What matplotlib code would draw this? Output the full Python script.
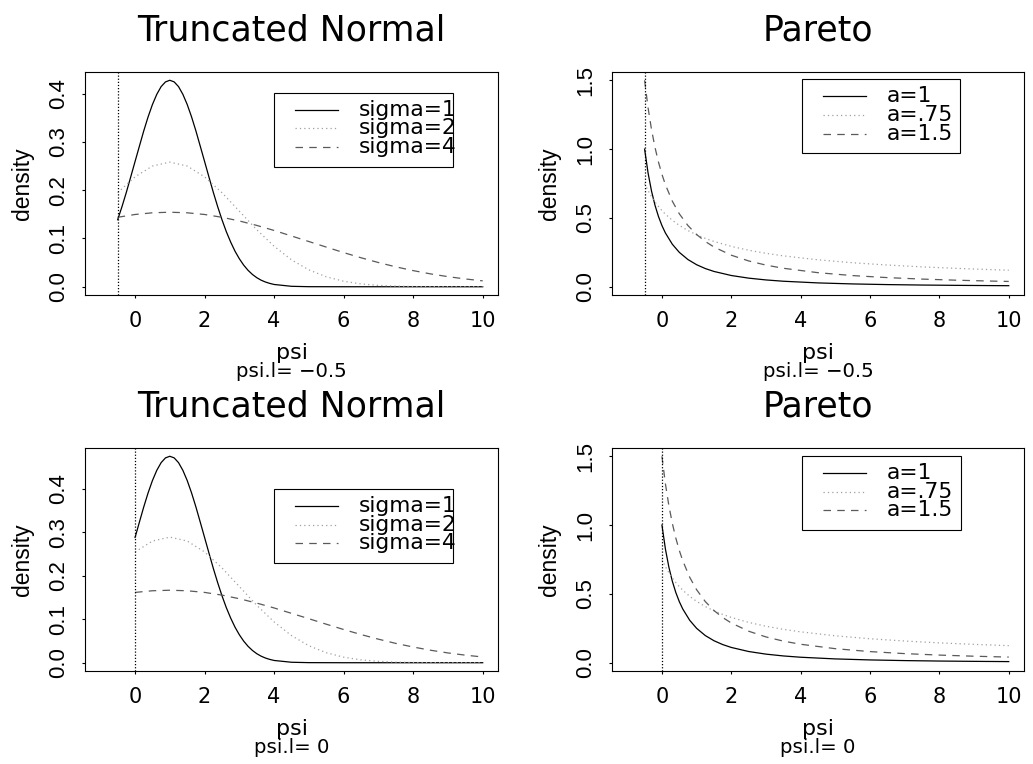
import matplotlib
matplotlib.use('Agg')
import matplotlib.pyplot as plt

plt.rcParams['font.family'] = ['DejaVu Sans']
ROT_FONT = ['Liberation Sans', 'DejaVu Sans']   # narrower face for the rotated texts

# ---- truncated normal, psi.l = -0.5 ----
tn_top_x1 = [-0.5, -0.375, -0.25, -0.125, 0, 0.125, 0.25, 0.375, 0.5, 0.625, 0.75, 0.875,
             1, 1.125, 1.25, 1.375, 1.5, 1.625, 1.75, 1.875, 2, 2.125, 2.25, 2.375, 2.5,
             2.625, 2.75, 2.875, 3, 3.125, 3.25, 3.375, 3.5, 3.625, 3.75, 3.875, 4,
             4.5, 5, 6, 7, 8, 9, 10]
tn_top_s1 = [0.1388, 0.1661, 0.1957, 0.2273, 0.2593, 0.2911, 0.3227, 0.3517, 0.3773, 0.3984,
             0.4144, 0.4241, 0.4275, 0.4241, 0.4144, 0.3984, 0.3773, 0.3517, 0.3227, 0.2911,
             0.2593, 0.2273, 0.1957, 0.1661, 0.1388, 0.1140, 0.0925, 0.0736, 0.0579, 0.0447,
             0.0340, 0.0255, 0.0188, 0.0136, 0.0098, 0.0069, 0.0047,
             0.0009, 0.0001, 0, 0, 0, 0, 0]
tn_top_x2 = [-0.5, 0, 0.5, 1, 1.5, 2, 2.5, 3, 3.5, 4, 4.5, 5, 5.5, 6, 6.5, 7, 7.5, 8, 9, 10]
tn_top_s2 = [0.1947, 0.2276, 0.2499, 0.2580, 0.2499, 0.2276, 0.1947, 0.1565, 0.1181, 0.0838,
             0.0557, 0.0349, 0.0206, 0.0114, 0.0058, 0.0028, 0.0013, 0.0005, 0.0001, 0]
tn_top_x4 = [-0.5, 0, 0.5, 1, 1.5, 2, 2.5, 3, 3.5, 4, 4.5, 5, 5.5, 6, 6.5, 7, 7.5, 8,
             8.5, 9, 9.5, 10]
tn_top_s4 = [0.1438, 0.1496, 0.1531, 0.1543, 0.1531, 0.1496, 0.1438, 0.1362, 0.1270, 0.1165,
             0.1051, 0.0936, 0.0821, 0.0707, 0.0600, 0.0501, 0.0412, 0.0334, 0.0266, 0.0209,
             0.0161, 0.0122]

# ---- truncated normal, psi.l = 0 ----
tn_bot_x1 = [0, 0.125, 0.25, 0.375, 0.5, 0.625, 0.75, 0.875, 1, 1.125, 1.25, 1.375, 1.5,
             1.625, 1.75, 1.875, 2, 2.125, 2.25, 2.375, 2.5, 2.625, 2.75, 2.875, 3, 3.125,
             3.25, 3.375, 3.5, 3.625, 3.75, 3.875, 4, 4.5, 5, 6, 7, 8, 9, 10]
tn_bot_s1 = [0.2876, 0.3230, 0.3579, 0.3901, 0.4185, 0.4419, 0.4596, 0.4705, 0.4742, 0.4705,
             0.4596, 0.4419, 0.4185, 0.3901, 0.3579, 0.3230, 0.2876, 0.2521, 0.2170, 0.1842,
             0.1539, 0.1265, 0.1026, 0.0817, 0.0642, 0.0496, 0.0377, 0.0283, 0.0208, 0.0151,
             0.0108, 0.0076, 0.0052, 0.0011, 0.0002, 0, 0, 0, 0, 0]
tn_bot_x2 = [0, 0.5, 1, 1.5, 2, 2.5, 3, 3.5, 4, 4.5, 5, 5.5, 6, 6.5, 7, 7.5, 8, 9, 10]
tn_bot_s2 = [0.2545, 0.2795, 0.2885, 0.2795, 0.2545, 0.2178, 0.1750, 0.1320, 0.0937, 0.0623,
             0.0390, 0.0230, 0.0127, 0.0065, 0.0032, 0.0014, 0.0006, 0.0001, 0]
tn_bot_x4 = [0, 0.5, 1, 1.5, 2, 2.5, 3, 3.5, 4, 4.5, 5, 5.5, 6, 6.5, 7, 7.5, 8, 8.5, 9, 9.5, 10]
tn_bot_s4 = [0.1615, 0.1653, 0.1665, 0.1653, 0.1615, 0.1553, 0.1470, 0.1370, 0.1258, 0.1134,
             0.1011, 0.0885, 0.0763, 0.0647, 0.0541, 0.0444, 0.0361, 0.0287, 0.0225, 0.0174,
             0.0132]

# ---- pareto, psi.l = -0.5 ----
par_top_x = [-0.5, -0.4, -0.3, -0.2, -0.1, 0, 0.1, 0.3, 0.5, 0.75, 1, 1.25, 1.5, 2, 2.5, 3,
             3.5, 4.5, 5.5, 6.5, 7.5, 8.5, 9.5, 10]
par_top_a1 = [1, 0.8264, 0.6944, 0.5917, 0.5102, 0.4444, 0.3906, 0.3086, 0.25, 0.1975, 0.16,
              0.1322, 0.1111, 0.0816, 0.0625, 0.0494, 0.04, 0.0278, 0.0204, 0.0156, 0.0123,
              0.01, 0.0083, 0.0076]
par_top_a075 = [0.75, 0.6983, 0.6542, 0.6161, 0.5828, 0.5533, 0.5272, 0.4826, 0.4460, 0.4082,
                0.3773, 0.3512, 0.3290, 0.2931, 0.2652, 0.2428, 0.2243, 0.1957, 0.1743, 0.1577,
                0.1443, 0.1334, 0.1242, 0.1201]
par_top_a15 = [1.5, 1.3001, 1.1411, 1.0120, 0.9055, 0.8165, 0.7412, 0.6211, 0.5303, 0.4444,
               0.3795, 0.3289, 0.2887, 0.2291, 0.1875, 0.1571, 0.1342, 0.1021, 0.0810, 0.0663,
               0.0556, 0.0474, 0.0411, 0.0385]

# ---- pareto, psi.l = 0 ----
par_bot_x = [0, 0.1, 0.2, 0.3, 0.4, 0.5, 0.6, 0.8, 1, 1.25, 1.5, 1.75, 2, 2.5, 3, 3.5, 4,
             5, 6, 7, 8, 9, 10]
par_bot_a1 = [1, 0.8264, 0.6944, 0.5917, 0.5102, 0.4444, 0.3906, 0.3086, 0.25, 0.1975, 0.16,
              0.1322, 0.1111, 0.0816, 0.0625, 0.0494, 0.04, 0.0278, 0.0204, 0.0156, 0.0123,
              0.01, 0.0083]
par_bot_a075 = [0.75, 0.6983, 0.6542, 0.6161, 0.5828, 0.5533, 0.5272, 0.4826, 0.4460, 0.4082,
                0.3773, 0.3512, 0.3290, 0.2931, 0.2652, 0.2428, 0.2243, 0.1957, 0.1743, 0.1577,
                0.1443, 0.1334, 0.1242]
par_bot_a15 = [1.5, 1.3001, 1.1411, 1.0120, 0.9055, 0.8165, 0.7412, 0.6211, 0.5303, 0.4444,
               0.3795, 0.3289, 0.2887, 0.2291, 0.1875, 0.1571, 0.1342, 0.1021, 0.0810, 0.0663,
               0.0556, 0.0474, 0.0411]

tn_labels = ['sigma=1', 'sigma=2', 'sigma=4']
par_labels = ['a=1', 'a=.75', 'a=1.5']
x_ticks = [0, 2, 4, 6, 8, 10]
tn_yticks = [0.0, 0.1, 0.2, 0.3, 0.4]
par_yticks = [0.0, 0.5, 1.0, 1.5]

W, H = 1033, 764
fig = plt.figure(figsize=(W / 100, H / 100), dpi=100)

# line styles: solid black, light grey dots, darker grey dashes
STYLES = [dict(color='black', lw=0.9, ls='-'),
          dict(color='#a0a0a0', lw=0.9, ls=(0, (1, 2.5))),
          dict(color='#5a5a5a', lw=0.9, ls=(0, (6, 5)))]


def draw_key(ax, box, left, top, width, labels):
    # R style legend box, given in figure pixels
    bl, bt, bw, bh = box

    def fx(px):
        return (px - bl) / bw

    def fy(py):
        return 1 - (py - bt) / bh

    rect = plt.Rectangle((fx(left), fy(top + 74)), width / bw, 74 / bh,
                         transform=ax.transAxes, fill=False, lw=0.8,
                         edgecolor='black', zorder=5)
    ax.add_patch(rect)
    for i, (lab, st) in enumerate(zip(labels, STYLES)):
        yy = fy(top + 17 + 18.7 * i)
        ax.plot([fx(left + 21), fx(left + 64)], [yy, yy], transform=ax.transAxes,
                clip_on=False, **st)
        ax.text(fx(left + 85), yy, lab, transform=ax.transAxes, fontsize=15.7,
                va='center', ha='left')


panels = [
    dict(box=(85, 72, 413, 223), title='Truncated Normal', psil=-0.5, sub='psi.l= \u22120.5',
         series=[(tn_top_x1, tn_top_s1), (tn_top_x2, tn_top_s2), (tn_top_x4, tn_top_s4)],
         ylim=(-0.0171, 0.4446), yticks=tn_yticks, labels=tn_labels,
         key=(274, 92.7, 179)),
    dict(box=(612, 72, 412, 223), title='Pareto', psil=-0.5, sub='psi.l= \u22120.5',
         series=[(par_top_x, par_top_a1), (par_top_x, par_top_a075), (par_top_x, par_top_a15)],
         ylim=(-0.06, 1.56), yticks=par_yticks, labels=par_labels,
         key=(801.7, 79.3, 158.5)),
    dict(box=(85, 448, 413, 223), title='Truncated Normal', psil=0, sub='psi.l= 0',
         series=[(tn_bot_x1, tn_bot_s1), (tn_bot_x2, tn_bot_s2), (tn_bot_x4, tn_bot_s4)],
         ylim=(-0.019, 0.4932), yticks=tn_yticks, labels=tn_labels,
         key=(274, 489, 179)),
    dict(box=(612, 448, 412, 223), title='Pareto', psil=0, sub='psi.l= 0',
         series=[(par_bot_x, par_bot_a1), (par_bot_x, par_bot_a075), (par_bot_x, par_bot_a15)],
         ylim=(-0.06, 1.56), yticks=par_yticks, labels=par_labels,
         key=(801.7, 456, 159)),
]

for p in panels:
    bl, bt, bw, bh = p['box']
    ax = fig.add_axes([bl / W, 1 - (bt + bh) / H, bw / W, bh / H])
    for (xs, ys), st in zip(p['series'], STYLES):
        ax.plot(xs, ys, **st)
    ax.axvline(p['psil'], color='black', lw=0.9, ls=(0, (1, 1.5)))
    ax.set_xlim(-1.44, 10.44)
    ax.set_ylim(*p['ylim'])
    ax.set_xticks(x_ticks)
    ax.set_xticklabels([str(t) for t in x_ticks])
    ax.set_yticks(p['yticks'])
    ax.set_yticklabels(['%.1f' % t for t in p['yticks']], rotation=90, va='center',
                       family=ROT_FONT)
    ax.tick_params(axis='x', labelsize=15, length=2.5, width=0.8, pad=9)
    ax.tick_params(axis='y', labelsize=16, length=2.5, width=0.8, pad=9)
    for s in ax.spines.values():
        s.set_linewidth(0.8)
    ax.set_title(p['title'], fontsize=25, pad=23)
    ax.text(-0.1525, 0.5, 'density', transform=ax.transAxes, rotation=90, fontsize=16.5,
            family=ROT_FONT, ha='center', va='center')
    ax.text(0.5, -0.262, 'psi', transform=ax.transAxes, fontsize=16,
            ha='center', va='center')
    ax.text(0.5, -0.345, p['sub'], transform=ax.transAxes, fontsize=14.2,
            ha='center', va='center')
    kl, kt, kw = p['key']
    draw_key(ax, p['box'], kl, kt, kw, p['labels'])

fig.savefig('out.png', dpi=100)
